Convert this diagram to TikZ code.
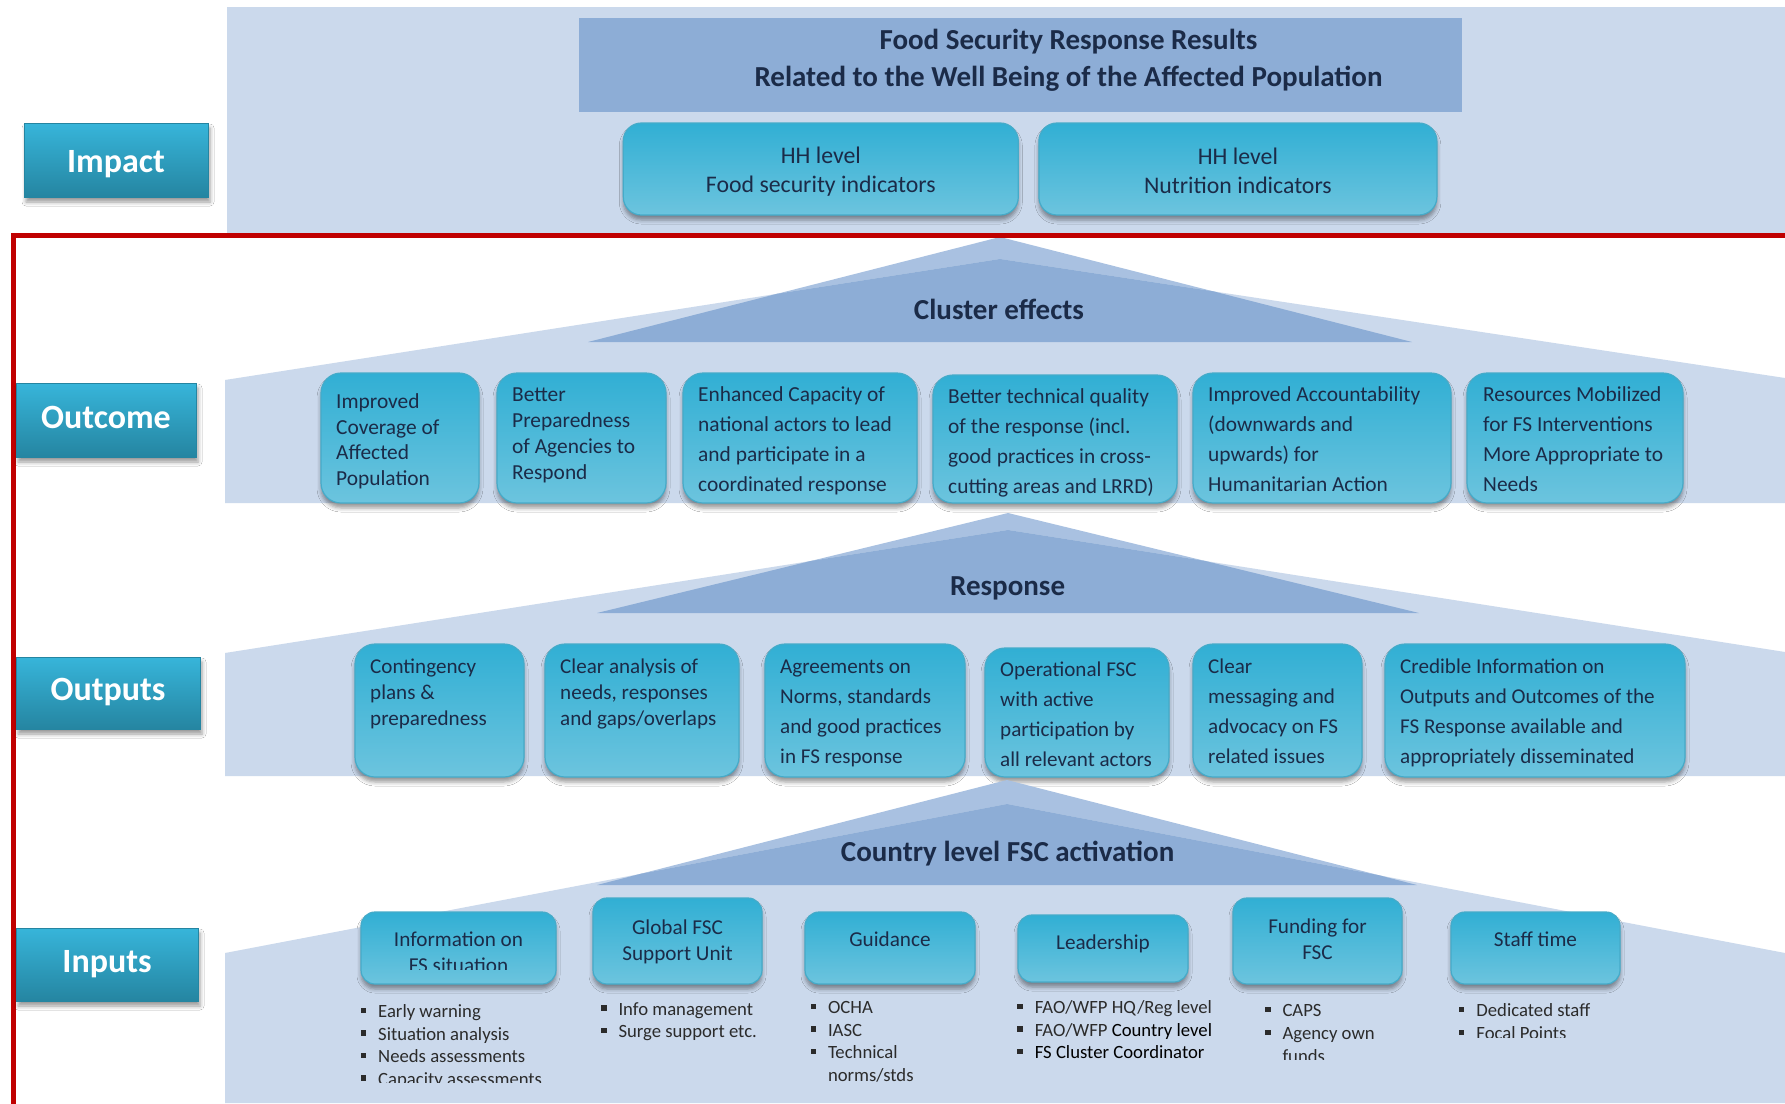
\documentclass[tikz,border=0pt]{standalone}
\usepackage{fontspec}
\setmainfont{Carlito}
\usetikzlibrary{shadows.blur}
\definecolor{panel}{HTML}{CBD9EC}
\definecolor{midblue}{HTML}{A9C1E1}
\definecolor{darkblue}{HTML}{8DADD6}
\definecolor{navy}{HTML}{1B2B48}
\definecolor{boxtop}{HTML}{31AFD4}
\definecolor{boxbot}{HTML}{6CC4DE}
\definecolor{boxedge}{HTML}{45ABC9}
\definecolor{labtop}{HTML}{37B5DA}
\definecolor{labbot}{HTML}{2585A1}
\definecolor{framered}{HTML}{C00000}
\definecolor{listtxt}{HTML}{2B2B2B}
\newcommand\blt{\makebox[17.5pt][l]{\rule[4.5pt]{5.5pt}{5.5pt}}}
\newcommand\ind{\hspace*{17.5pt}}
\tikzset{
  card/.style={rounded corners=#1, top color=boxtop, bottom color=boxbot, draw=boxedge, line width=1.2pt, inner sep=0pt,
    blur shadow={shadow xshift=0pt, shadow yshift=-5pt, shadow blur radius=4pt, shadow opacity=40}},
  card/.default=20pt,
  lab/.style={top color=labtop, bottom color=labbot, draw=labbot, line width=0.6pt, text=white, inner sep=0pt,
    font=\bfseries\fontsize{34}{40}\selectfont, text height=24pt, text depth=8pt,
    blur shadow={shadow xshift=2pt, shadow yshift=-5pt, shadow blur radius=4pt, shadow opacity=40}},
  btxt/.style={text=navy, align=left, inner sep=0pt, anchor=north west},
  ctxt/.style={text=navy, align=center, inner sep=0pt, anchor=north},
  head/.style={text=navy, inner sep=0pt, anchor=base, font=\bfseries\fontsize{29}{34}\selectfont},
  lst/.style={text=listtxt, align=left, inner sep=0pt, anchor=north west, font=\fontsize{18.7}{22.6}\selectfont},
}
\begin{document}
\begin{tikzpicture}[x=1pt,y=-1pt]
\useasboundingbox (0,0) rectangle (1785,1103);
\fill[white] (0,0) rectangle (1785,1103);

% ---------- Impact panel ----------
\fill[panel] (227,7) rectangle (1785,233);
\node[fill=darkblue, minimum width=883pt, minimum height=94pt, inner sep=0pt] (title) at (1020.5,65) {};
\node[ctxt, font=\bfseries\fontsize{29}{37}\selectfont] (titlet) at (1068.5,23.4)
  {\strut Food Security Response Results\\ Related to the Well Being of the Affected Population};
\node[card=18pt, minimum width=395pt, minimum height=92pt] (hh1) at (820.8,169) {};
\node[card=18pt, minimum width=398pt, minimum height=92pt] (hh2) at (1237.9,169) {};
\node[ctxt, font=\fontsize{23.8}{29.4}\selectfont] (hh1t) at (820.8,142.7) {\strut HH level\\ Food security indicators};
\node[ctxt, font=\fontsize{23.8}{29.4}\selectfont] (hh2t) at (1237.9,143.7) {\strut HH level\\ Nutrition indicators};

% ---------- Outcome section ----------
\fill[midblue] (1000,237) -- (1412,342) -- (588,342) -- cycle;
\fill[panel] (225,503) -- (225,380) -- (1000,259) -- (1785,378) -- (1785,503) -- cycle;
\begin{scope}
  \clip (225,503) -- (225,380) -- (1000,259) -- (1785,378) -- (1785,503) -- cycle;
  \fill[darkblue] (1000,237) -- (1412,342) -- (588,342) -- cycle;
\end{scope}
\node[head] (cluster) at (999,319.3) {Cluster effects};

\node[card, minimum width=158pt, minimum height=130pt] (o1) at (400,438) {};
\node[card, minimum width=169pt, minimum height=130pt] (o2) at (581.5,438) {};
\node[card, minimum width=234pt, minimum height=130pt] (o3) at (800,438) {};
\node[card, minimum width=244pt, minimum height=128pt] (o4) at (1055,439) {};
\node[card, minimum width=258pt, minimum height=130pt] (o5) at (1322,438) {};
\node[card, minimum width=216pt, minimum height=130pt] (o6) at (1575,438) {};
\node[btxt, font=\fontsize{21.4}{25.6}\selectfont] (o1t) at (336,390.4) {\strut Improved\\ Coverage of\\ Affected\\ Population};
\node[btxt, font=\fontsize{21.4}{26}\selectfont] (o2t) at (512,383.5) {\strut Better\\ Preparedness\\ of Agencies to\\ Respond};
\node[btxt, font=\fontsize{21.4}{30}\selectfont] (o3t) at (698,380.7) {\strut Enhanced Capacity of\\ national actors to lead\\ and participate in a\\ coordinated response};
\node[btxt, font=\fontsize{21.4}{30}\selectfont] (o4t) at (948,382.3) {\strut Better technical quality\\ of the response (incl.\\ good practices in cross-\\ cutting areas and LRRD)};
\node[btxt, font=\fontsize{21.4}{30}\selectfont] (o5t) at (1208,380.7) {\strut Improved Accountability\\ (downwards and\\ upwards) for\\ Humanitarian Action};
\node[btxt, font=\fontsize{21.4}{30}\selectfont] (o6t) at (1483,380.7) {\strut Resources Mobilized\\ for FS Interventions\\ More Appropriate to\\ Needs};

% ---------- Outputs section ----------
\fill[midblue] (1008,513) -- (1419,613) -- (597,613) -- cycle;
\fill[panel] (225,776) -- (225,653) -- (1008,530) -- (1785,652) -- (1785,776) -- cycle;
\begin{scope}
  \clip (225,776) -- (225,653) -- (1008,530) -- (1785,652) -- (1785,776) -- cycle;
  \fill[darkblue] (1008,513) -- (1419,613) -- (597,613) -- cycle;
\end{scope}
\node[head] (response) at (1007.6,595) {Response};

\node[card, minimum width=169pt, minimum height=133pt] (p1) at (439.5,710.5) {};
\node[card, minimum width=194pt, minimum height=133pt] (p2) at (642,710.5) {};
\node[card, minimum width=200pt, minimum height=133pt] (p3) at (865,710.5) {};
\node[card, minimum width=184pt, minimum height=129pt] (p4) at (1077,712.5) {};
\node[card, minimum width=169pt, minimum height=133pt] (p5) at (1277.5,710.5) {};
\node[card, minimum width=300pt, minimum height=133pt] (p6) at (1535,710.5) {};
\node[btxt, font=\fontsize{21.1}{26}\selectfont] (p1t) at (370,655.1) {\strut Contingency\\ plans \&\\ preparedness};
\node[btxt, font=\fontsize{21.1}{26}\selectfont] (p2t) at (560,654.8) {\strut Clear analysis of\\ needs, responses\\ and gaps/overlaps};
\node[btxt, font=\fontsize{21.1}{30}\selectfont] (p3t) at (780,652) {\strut Agreements on\\ Norms, standards\\ and good practices\\ in FS response};
\node[btxt, font=\fontsize{21.1}{30}\selectfont] (p4t) at (1000,655) {\strut Operational FSC\\ with active\\ participation by\\ all relevant actors};
\node[btxt, font=\fontsize{21.1}{30}\selectfont] (p5t) at (1208,652.4) {\strut Clear\\ messaging and\\ advocacy on FS\\ related issues};
\node[btxt, font=\fontsize{21.1}{30}\selectfont] (p6t) at (1400,652.4) {\strut Credible Information on\\ Outputs and Outcomes of the\\ FS Response available and\\ appropriately disseminated};

% ---------- Inputs section ----------
\fill[midblue] (1007,780) -- (1417,885) -- (597,885) -- cycle;
\fill[panel] (225,1103) -- (225,953) -- (1007,804) -- (1785,953) -- (1785,1103) -- cycle;
\begin{scope}
  \clip (225,1103) -- (225,953) -- (1007,804) -- (1785,953) -- (1785,1103) -- cycle;
  \fill[darkblue] (1007,780) -- (1417,885) -- (597,885) -- cycle;
\end{scope}
\node[head] (country) at (1007.6,861.7) {Country level FSC activation};

\node[card=14pt, minimum width=195pt, minimum height=72pt] (i1) at (458.5,948) {};
\node[card=14pt, minimum width=169pt, minimum height=86pt] (i2) at (677.5,941) {};
\node[card=14pt, minimum width=170pt, minimum height=72pt] (i3) at (890,948) {};
\node[card=14pt, minimum width=170pt, minimum height=67pt] (i4) at (1103,948.5) {};
\node[card=14pt, minimum width=169pt, minimum height=86pt] (i5) at (1317.5,941) {};
\node[card=14pt, minimum width=169pt, minimum height=72pt] (i6) at (1535.5,948) {};
\begin{scope}
  \clip (340,900) rectangle (580,969.5);
  \node[ctxt, font=\fontsize{21.2}{26}\selectfont] (i1t) at (458.5,928.5) {\strut Information on\\ FS situation};
\end{scope}
\node[ctxt, font=\fontsize{21.2}{26}\selectfont] (i2t) at (677.5,915.8) {\strut Global FSC\\ Support Unit};
\node[ctxt, font=\fontsize{21.2}{26}\selectfont] (i3t) at (890,928.5) {\strut Guidance};
\node[ctxt, font=\fontsize{21.2}{26}\selectfont] (i4t) at (1103,931.1) {\strut Leadership};
\node[ctxt, font=\fontsize{21.2}{26}\selectfont] (i5t) at (1317.5,915.1) {\strut Funding for\\ FSC};
\node[ctxt, font=\fontsize{21.2}{26}\selectfont] (i6t) at (1535.5,928.5) {\strut Staff time};

\begin{scope}
  \clip (340,990) rectangle (600,1082.5);
  \node[lst] (l1) at (360.5,1001.5) {\strut\blt Early warning\\ \blt Situation analysis\\ \blt Needs assessments\\ \blt Capacity assessments};
\end{scope}
\node[lst] (l2) at (600.8,999.2) {\strut\blt Info management\\ \blt Surge support etc.};
\node[lst] (l3) at (810.3,997.5) {\strut\blt OCHA\\ \blt IASC\\ \blt Technical\\ \ind norms/stds};
\node[lst] (l4) at (1017.2,997.5) {\strut\blt FAO/WFP HQ/Reg level\\ \blt FAO/WFP \textcolor{black}{Country level}\\ \blt \textcolor{black}{FS Cluster Coordinator}};
\begin{scope}
  \clip (1240,990) rectangle (1440,1059);
  \node[lst] (l5) at (1264.8,1000.9) {\strut\blt CAPS\\ \blt Agency own\\ \ind funds};
\end{scope}
\begin{scope}
  \clip (1440,990) rectangle (1660,1037);
  \node[lst] (l6) at (1458.7,1000.9) {\strut\blt Dedicated staff\\ \blt Focal Points};
\end{scope}

% ---------- red frame ----------
\draw[framered, line width=5pt] (13,1110) -- (13,235) -- (1790,235);

% ---------- level labels ----------
\node[lab, minimum width=184pt, minimum height=74pt, text height=30pt, text depth=5.4pt] (impactL) at (116,160) {Impact};
\node[lab, minimum width=180pt, minimum height=74pt] (outcomeL) at (106,420) {Outcome};
\node[lab, minimum width=184pt, minimum height=72pt, text height=23pt, text depth=9pt] (outputsL) at (108,693) {Outputs};
\node[lab, minimum width=182pt, minimum height=73pt] (inputsL) at (107,964.5) {Inputs};
\end{tikzpicture}
\end{document}
